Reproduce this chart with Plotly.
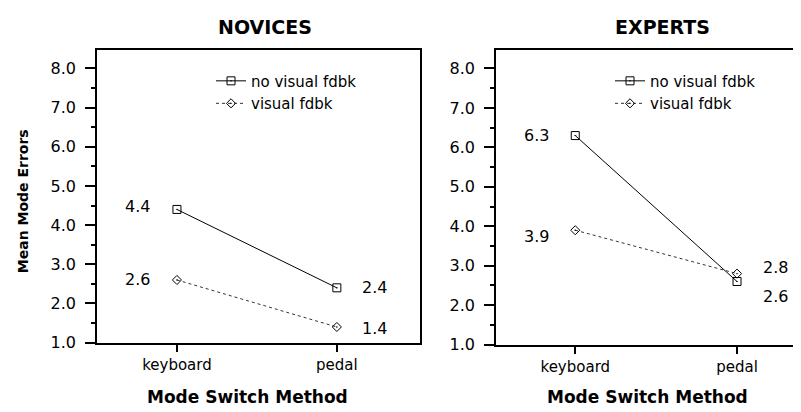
import plotly.graph_objects as go

categories = ["keyboard", "pedal"]
novices_no_fdbk = [4.4, 2.4]
novices_fdbk = [2.6, 1.4]
experts_no_fdbk = [6.3, 2.6]
experts_fdbk = [3.9, 2.8]
series_names = ["no visual fdbk", "visual fdbk"]
panel_titles = ["NOVICES", "EXPERTS"]
x_title = "Mode Switch Method"
y_title = "Mean Mode Errors"

FONT = "DejaVu Sans"
fig = go.Figure()

def add_panel(xa, ya, legend, no_fb, fb):
    fig.add_trace(go.Scatter(
        x=categories, y=no_fb, name=series_names[0], mode="lines+markers",
        line=dict(color="black", width=1),
        marker=dict(symbol="square-open-dot", size=8, color="black", line=dict(width=1)),
        xaxis=xa, yaxis=ya, legend=legend))
    fig.add_trace(go.Scatter(
        x=categories, y=fb, name=series_names[1], mode="lines+markers",
        line=dict(color="#333333", width=1, dash="dot"),
        marker=dict(symbol="diamond-open-dot", size=7, color="black", line=dict(width=1)),
        xaxis=xa, yaxis=ya, legend=legend))

add_panel("x", "y", "legend", novices_no_fdbk, novices_fdbk)
add_panel("x2", "y2", "legend2", experts_no_fdbk, experts_fdbk)

W, H = 801, 412
def px(x):
    return x / W
def py(y):
    return 1 - y / H

ytickfont = dict(family=FONT, size=16, color="black")
xtickfont = dict(family=FONT, size=15, color="black")
yaxis_common = dict(
    range=[1.0, 8.47], tickmode="linear", tick0=1, dtick=1, tickformat=".1f",
    ticks="outside", ticklen=10, tickwidth=1.5, tickcolor="black",
    minor=dict(ticks="outside", ticklen=4, dtick=0.5, tick0=1, tickcolor="black", tickwidth=1.5, showgrid=False),
    showgrid=False, zeroline=False, showline=True, linecolor="black", linewidth=1.5,
    tickfont=ytickfont, ticklabelstandoff=6, fixedrange=True)
xaxis_common = dict(
    type="category", ticks="outside", ticklen=8, tickwidth=1.5, tickcolor="black",
    showgrid=False, zeroline=False, showline=True, linecolor="black", linewidth=1.5,
    tickfont=xtickfont, fixedrange=True)

legend_font = dict(family=FONT, size=15, color="black")
fig.update_layout(
    width=W, height=H, margin=dict(l=0, r=0, t=0, b=0),
    paper_bgcolor="white", plot_bgcolor="white",
    font=dict(family=FONT, size=14, color="black"),
    xaxis=dict(xaxis_common, domain=[px(89), px(412)], range=[-0.5, 1.52], anchor="y", mirror=True),
    yaxis=dict(yaxis_common, domain=[py(343), py(43)], anchor="x", mirror=True),
    xaxis2=dict(xaxis_common, domain=[px(488), 1.0], range=[-0.49, 1.445], anchor="y2", mirror=True),
    yaxis2=dict(yaxis_common, domain=[py(345), py(43)], anchor="x2", mirror=False),
    legend=dict(x=px(203), y=py(58), xanchor="left", yanchor="top", itemwidth=30,
                font=legend_font, bgcolor="rgba(0,0,0,0)"),
    legend2=dict(x=px(602), y=py(58), xanchor="left", yanchor="top", itemwidth=30,
                 font=legend_font, bgcolor="rgba(0,0,0,0)"),
    showlegend=True,
)

annotations = []
# Panel titles
for title, cx in zip(panel_titles, [257, 654]):
    annotations.append(dict(text=f"<b>{title}</b>", x=px(cx), y=py(19), xref="paper", yref="paper",
                            showarrow=False, xanchor="center", yanchor="middle",
                            font=dict(family=FONT, size=19, color="black")))
# X titles
for cx in [239, 639]:
    annotations.append(dict(text=f"<b>{x_title}</b>", x=px(cx), y=py(399), xref="paper", yref="paper",
                            showarrow=False, xanchor="center", yanchor="middle",
                            font=dict(family=FONT, size=17, color="black")))
# Y title
annotations.append(dict(text=f"<b>{y_title}</b>", x=px(15), y=py(198), xref="paper", yref="paper",
                        showarrow=False, xanchor="center", yanchor="middle", textangle=-90,
                        font=dict(family=FONT, size=14, color="black")))

# Value labels
def value_labels(xref, yref, vals, yshifts):
    for cat, v, ys in zip(categories, vals, yshifts):
        xs = -39 if cat == "keyboard" else 38
        annotations.append(dict(text=f"{v:.1f}", x=cat, y=v, xref=xref, yref=yref,
                                showarrow=False, xshift=xs, yshift=ys,
                                xanchor="center", yanchor="middle",
                                font=dict(family=FONT, size=16, color="black")))

value_labels("x", "y", novices_no_fdbk, [3, 0])
value_labels("x", "y", novices_fdbk, [0, -2])
value_labels("x2", "y2", experts_no_fdbk, [0, -15])
value_labels("x2", "y2", experts_fdbk, [-6, 6])

fig.update_layout(annotations=annotations)
fig.write_html("out.html")
